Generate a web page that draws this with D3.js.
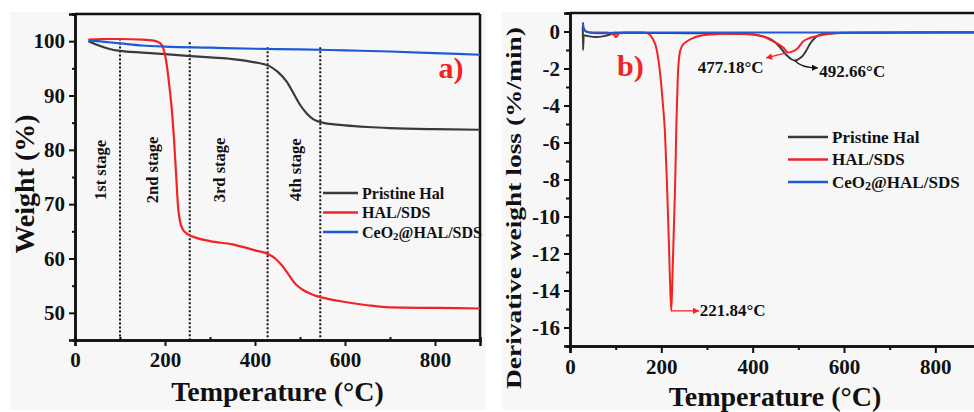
<!DOCTYPE html>
<html><head><meta charset="utf-8">
<script src="https://cdn.jsdelivr.net/npm/d3@7"></script>
<style>
html,body{margin:0;padding:0;background:#fff;}
svg{display:block;}
text{font-family:"Liberation Serif","Times New Roman",serif;font-weight:bold;fill:#111;}
</style></head>
<body>
<svg id="chart" width="974" height="412"></svg>
<script>
// ---------- DATA ----------
const seriesNames = ["Pristine Hal", "HAL/SDS", "CeO2@HAL/SDS"];
const seriesColors = ["#3a3a3a", "#f42323", "#1f5ad6"];

// TGA (weight %) vs temperature
const tgaPristine = [[30,100],[50,99.3],[75,98.6],[100,98.2],[150,97.9],[200,97.6],[250,97.3],[300,97.0],[350,96.7],[400,96.1],[430,95.5],[450,94.4],[470,92.6],[485,90.5],[500,88.3],[515,86.7],[530,85.6],[550,85.0],[600,84.5],[650,84.2],[700,84.0],[800,83.8],[900,83.7]];
const tgaHalSds = [[30,100.3],[60,100.4],[100,100.4],[150,100.3],[175,100.1],[190,99.6],[200,97.5],[205,95],[210,91.5],[215,87.5],[220,82],[225,75],[229,69.5],[233,67],[240,65.3],[250,64.5],[270,63.8],[300,63.2],[350,62.6],[400,61.5],[430,60.8],[445,60.0],[460,58.7],[475,57.0],[490,55.3],[505,54.3],[530,53.3],[550,52.8],[600,52.0],[650,51.4],[700,51.0],[800,50.9],[900,50.8]];
const tgaCeO2 = [[30,100.2],[50,100.0],[75,99.8],[100,99.6],[150,99.2],[200,99.0],[300,98.8],[400,98.6],[500,98.5],[600,98.3],[700,98.1],[800,97.8],[900,97.5]];

// DTG (%/min) vs temperature
const dtgPristine = [[28,0.3],[28.5,-1.0],[30,-0.2],[40,-0.25],[55,-0.3],[75,-0.25],[90,-0.15],[120,-0.08],[200,-0.08],[300,-0.1],[380,-0.12],[420,-0.25],[445,-0.5],[460,-0.85],[475,-1.3],[485,-1.5],[492.66,-1.57],[500,-1.5],[510,-1.3],[518,-1.0],[526,-0.65],[535,-0.38],[545,-0.2],[560,-0.12],[600,-0.08],[900,-0.05]];
const dtgHalSds = [[30,0.15],[35,0.0],[50,-0.05],[80,-0.05],[95,-0.15],[101,-0.3],[107,-0.1],[120,-0.05],[160,-0.05],[170,-0.1],[180,-0.35],[190,-1.0],[197,-2.2],[203,-3.8],[208,-5.5],[212,-8],[216,-11],[219,-13.5],[221.84,-15.1],[224,-13.5],[227,-11],[230,-8.5],[233,-5],[236,-2.5],[240,-1.2],[245,-0.8],[255,-0.55],[270,-0.35],[300,-0.18],[350,-0.12],[400,-0.15],[423,-0.27],[445,-0.53],[467,-0.87],[477.18,-1.13],[485,-1.1],[497,-0.95],[511,-0.53],[525,-0.35],[540,-0.25],[570,-0.12],[600,-0.07],[700,-0.05],[900,-0.03]];
const dtgCeO2 = [[28,0.5],[30,0.2],[35,0.0],[50,-0.08],[70,-0.1],[100,-0.05],[200,-0.05],[400,-0.05],[600,-0.05],[900,-0.05]];

// Stage boundaries (°C) and top weight of each dotted line
const stageBounds = [100, 255, 428, 545];
const stageTops = [100.5, 99.8, 98.9, 98.9];
const stageLabels = ["1st stage", "2nd stage", "3rd stage", "4th stage"];
const stageLabelT = [56, 172, 322, 489];

// Tick values
const xTicks = [0, 200, 400, 600, 800];
const xMinor = [100, 300, 500, 700];
const tgaTicks = [50, 60, 70, 80, 90, 100];
const tgaMinor = [55, 65, 75, 85, 95, 105];
const dtgTicks = [0, -2, -4, -6, -8, -10, -12, -14, -16];
const dtgMinor = [1, -1, -3, -5, -7, -9, -11, -13, -15, -17];

// Peak annotations
const peakMain = {t: 221.84, v: -15.1, label: "221.84°C"};
const peakRed = {t: 477.18, v: -1.13, label: "477.18°C"};
const peakBlack = {t: 492.66, v: -1.57, label: "492.66°C"};

// ---------- DRAW ----------
const FONT = "'Liberation Serif','Times New Roman',serif";
const fmt = d => String(d);
const svg = d3.select("#chart");
svg.append("rect").attr("x",10).attr("y",12).attr("width",476).attr("height",398).attr("fill","#f7f7f7");
svg.append("rect").attr("x",502).attr("y",12).attr("width",472).attr("height",398).attr("fill","#f7f7f7");

const defs = svg.append("defs");
function marker(id, color){
  defs.append("marker").attr("id",id).attr("viewBox","0 0 10 10").attr("refX",9).attr("refY",5)
    .attr("markerWidth",5).attr("markerHeight",5).attr("orient","auto")
    .append("path").attr("d","M0,0L10,5L0,10z").attr("fill",color);
}
marker("arrRed", seriesColors[1]);
marker("arrBlack", "#111");

const AXW = 2.5;

// ----- Left panel (TGA) -----
const xL = d3.scaleLinear().domain([0,900]).range([75,480]);
const yL = d3.scaleLinear().domain([45,105]).range([340,14]);
const gL = svg.append("g");

gL.append("line").attr("x1",xL(0)).attr("x2",xL(900)).attr("y1",yL(105)).attr("y2",yL(105)).attr("stroke","#111").attr("stroke-width",AXW);
gL.append("line").attr("x1",xL(900)).attr("x2",xL(900)).attr("y1",yL(105)).attr("y2",yL(45)).attr("stroke","#111").attr("stroke-width",AXW);

stageBounds.forEach((t,i)=>{
  gL.append("line").attr("x1",xL(t)).attr("x2",xL(t)).attr("y1",yL(stageTops[i])).attr("y2",yL(45))
    .attr("stroke","#111").attr("stroke-width",2).attr("stroke-dasharray","2,2");
});
stageLabels.forEach((s,i)=>{
  gL.append("text").attr("transform",`translate(${xL(stageLabelT[i])},${yL(76.3)}) rotate(-90)`)
    .attr("text-anchor","middle").attr("dominant-baseline","central").attr("font-size",16.5).text(s);
});

const lineL = d3.line().x(d=>xL(d[0])).y(d=>yL(d[1])).curve(d3.curveMonotoneX);
[tgaPristine, tgaHalSds, tgaCeO2].forEach((data,i)=>{
  gL.append("path").datum(data).attr("d",lineL).attr("fill","none").attr("stroke",seriesColors[i]).attr("stroke-width",2.2);
});

gL.append("g").attr("transform",`translate(0,${yL(45)})`)
  .call(d3.axisBottom(xL).tickValues(xTicks).tickSize(6).tickPadding(6).tickFormat(fmt));
gL.append("g").attr("transform",`translate(0,${yL(45)})`)
  .call(d3.axisBottom(xL).tickValues(xMinor).tickSize(-3).tickFormat(""));
gL.append("g").attr("transform",`translate(${xL(0)},0)`)
  .call(d3.axisLeft(yL).tickValues(tgaTicks).tickSize(6).tickPadding(4).tickFormat(fmt));
gL.append("g").attr("transform",`translate(${xL(0)},0)`)
  .call(d3.axisLeft(yL).tickValues(tgaMinor).tickSize(3).tickFormat(""));

gL.append("text").attr("x",(xL(0)+xL(900))/2).attr("y",401).attr("text-anchor","middle").attr("font-size",28).text("Temperature (°C)");
gL.append("text").attr("transform",`translate(24,${184}) rotate(-90)`).attr("text-anchor","middle").attr("dominant-baseline","central").attr("font-size",28).text("Weight (%)");
gL.append("text").attr("x",xL(808)).attr("y",yL(93.3)).attr("font-size",30).style("fill",seriesColors[1]).text("a)");

const legL = gL.append("g").attr("transform","translate(323,193)");
seriesNames.forEach((n,i)=>{
  const r = legL.append("g").attr("transform",`translate(0,${i*19.5})`);
  r.append("line").attr("x1",0).attr("x2",35).attr("y1",0).attr("y2",0).attr("stroke",seriesColors[i]).attr("stroke-width",2.5);
  const t = r.append("text").attr("x",39).attr("dominant-baseline","central").attr("font-size",16);
  if(n.startsWith("CeO2")){ t.append("tspan").text("CeO"); t.append("tspan").attr("font-size",11).attr("dy",4).text("2"); t.append("tspan").attr("dy",-4).text("@HAL/SDS"); }
  else t.text(n);
});

// ----- Right panel (DTG) -----
const xR = d3.scaleLinear().domain([0,900]).range([570,981]);
const yR = d3.scaleLinear().domain([-17,1]).range([346,13]);
const gR = svg.append("g");
gR.append("line").attr("x1",xR(0)).attr("x2",xR(900)).attr("y1",yR(1)).attr("y2",yR(1)).attr("stroke","#111").attr("stroke-width",AXW);

const lineR = d3.line().x(d=>xR(d[0])).y(d=>yR(d[1])).curve(d3.curveMonotoneX);
[dtgPristine, dtgHalSds, dtgCeO2].forEach((data,i)=>{
  gR.append("path").datum(data).attr("d",lineR).attr("fill","none").attr("stroke",seriesColors[i]).attr("stroke-width",2);
});

gR.append("g").attr("transform",`translate(0,${yR(-17)})`)
  .call(d3.axisBottom(xR).tickValues(xTicks).tickSize(7).tickPadding(6).tickFormat(fmt));
gR.append("g").attr("transform",`translate(0,${yR(-17)})`)
  .call(d3.axisBottom(xR).tickValues(xMinor).tickSize(4).tickFormat(""));
gR.append("g").attr("transform",`translate(${xR(0)},0)`)
  .call(d3.axisLeft(yR).tickValues(dtgTicks).tickSize(6).tickPadding(4).tickFormat(fmt));
gR.append("g").attr("transform",`translate(${xR(0)},0)`)
  .call(d3.axisLeft(yR).tickValues(dtgMinor).tickSize(4).tickFormat(""));

gR.append("text").attr("x",775).attr("y",406).attr("text-anchor","middle").attr("font-size",28).text("Temperature (°C)");
gR.append("text").attr("transform",`translate(514,${208}) rotate(-90)`).attr("text-anchor","middle").attr("dominant-baseline","central")
  .attr("font-size",21).attr("textLength",362).attr("lengthAdjust","spacingAndGlyphs").text("Derivative weight loss (%/min)");
gR.append("text").attr("x",xR(103)).attr("y",yR(-2.4)).attr("font-size",30).style("fill",seriesColors[1]).text("b)");

gR.append("line").attr("x1",xR(peakMain.t)).attr("y1",yR(peakMain.v)).attr("x2",xR(282)).attr("y2",yR(peakMain.v))
  .attr("stroke",seriesColors[1]).attr("stroke-width",1.3).attr("marker-end","url(#arrRed)");
gR.append("text").attr("x",xR(284)).attr("y",yR(-15.4)).attr("font-size",17).text(peakMain.label);

gR.append("line").attr("x1",xR(peakRed.t-4)).attr("y1",yR(peakRed.v-0.03)).attr("x2",xR(430)).attr("y2",yR(-1.43))
  .attr("stroke",seriesColors[1]).attr("stroke-width",1.3).attr("marker-end","url(#arrRed)");
gR.append("text").attr("x",xR(424)).attr("y",yR(-2.25)).attr("text-anchor","end").attr("font-size",17).text(peakRed.label);

gR.append("path").attr("d",`M${xR(peakBlack.t)},${yR(peakBlack.v)} Q${xR(505)},${yR(-1.95)} ${xR(542)},${yR(-1.97)}`)
  .attr("fill","none").attr("stroke","#111").attr("stroke-width",1.3).attr("marker-end","url(#arrBlack)");
gR.append("text").attr("x",xR(546)).attr("y",yR(-2.45)).attr("font-size",17).text(peakBlack.label);

const legR = gR.append("g").attr("transform","translate(788,137)");
seriesNames.forEach((n,i)=>{
  const r = legR.append("g").attr("transform",`translate(0,${i*22.5})`);
  r.append("line").attr("x1",0).attr("x2",40).attr("y1",0).attr("y2",0).attr("stroke",seriesColors[i]).attr("stroke-width",2.5);
  const t = r.append("text").attr("x",44).attr("dominant-baseline","central").attr("font-size",17);
  if(n.startsWith("CeO2")){ t.append("tspan").text("CeO"); t.append("tspan").attr("font-size",12).attr("dy",4).text("2"); t.append("tspan").attr("dy",-4).text("@HAL/SDS"); }
  else t.text(n);
});

// axis styling
svg.selectAll(".domain").attr("stroke","#111").attr("stroke-width",AXW);
svg.selectAll(".tick line").attr("stroke","#111").attr("stroke-width",2);
svg.selectAll("g[font-family]").attr("font-family",FONT).attr("font-size",21);
svg.selectAll(".tick text").attr("font-size",21).attr("font-family",FONT).attr("font-weight","bold").style("font-family",FONT).style("font-weight","bold").style("fill","#111");
</script>
</body></html>
